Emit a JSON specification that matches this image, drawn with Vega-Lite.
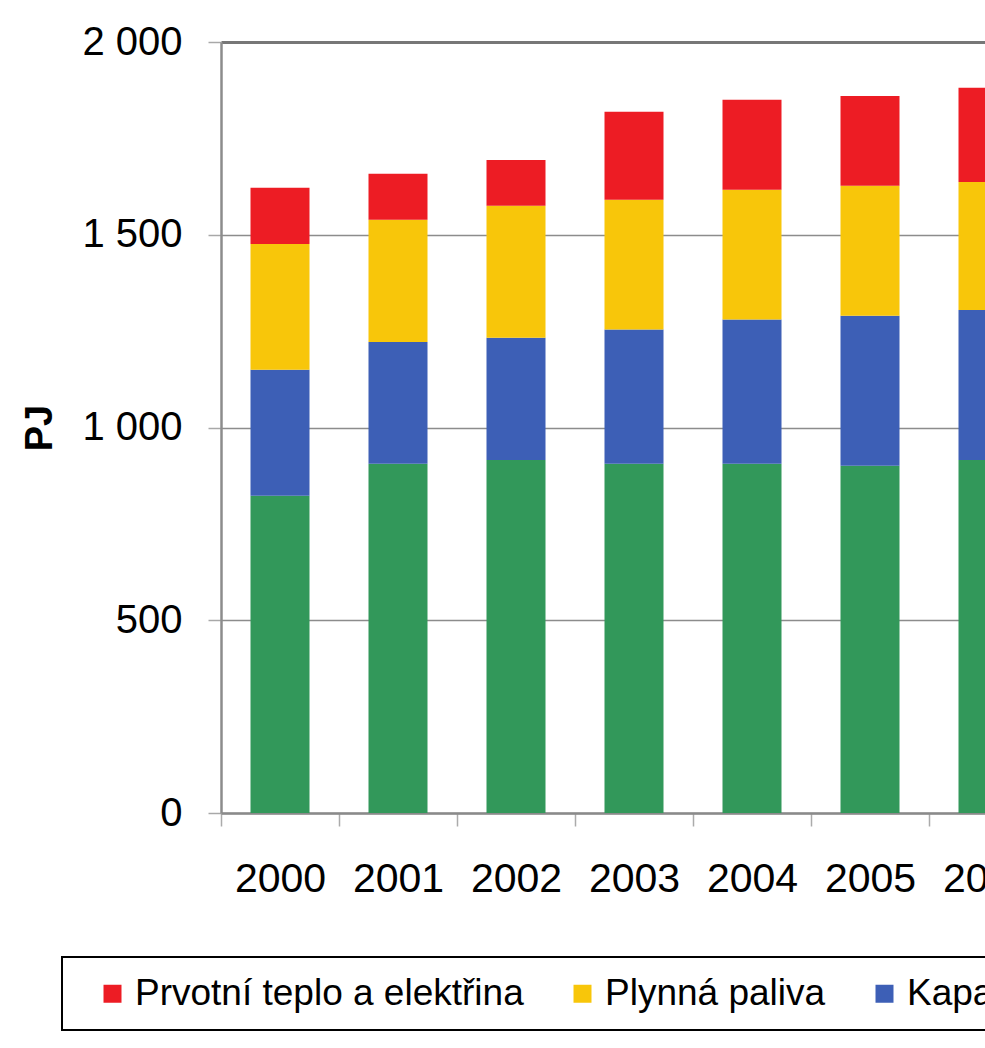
{
  "$schema": "https://vega.github.io/schema/vega-lite/v6.json",
  "autosize": {"type": "none"},
  "width": 764,
  "height": 771,
  "padding": {"left": 221, "top": 42, "right": 0, "bottom": 235},
  "background": "white",
  "config": {
    "font": "Liberation Sans",
    "view": {"stroke": null},
    "legend": {"strokeWidth": 2}
  },
  "data": {
    "values": [
      {"rok": "2000", "druh": "Pevná paliva", "poradi": 1, "PJ": 823},
      {"rok": "2000", "druh": "Kapalná paliva", "poradi": 2, "PJ": 327},
      {"rok": "2000", "druh": "Plynná paliva", "poradi": 3, "PJ": 326},
      {"rok": "2000", "druh": "Prvotní teplo a elektřina", "poradi": 4, "PJ": 146},
      {"rok": "2001", "druh": "Pevná paliva", "poradi": 1, "PJ": 906},
      {"rok": "2001", "druh": "Kapalná paliva", "poradi": 2, "PJ": 316},
      {"rok": "2001", "druh": "Plynná paliva", "poradi": 3, "PJ": 317},
      {"rok": "2001", "druh": "Prvotní teplo a elektřina", "poradi": 4, "PJ": 119},
      {"rok": "2002", "druh": "Pevná paliva", "poradi": 1, "PJ": 916},
      {"rok": "2002", "druh": "Kapalná paliva", "poradi": 2, "PJ": 317},
      {"rok": "2002", "druh": "Plynná paliva", "poradi": 3, "PJ": 342},
      {"rok": "2002", "druh": "Prvotní teplo a elektřina", "poradi": 4, "PJ": 119},
      {"rok": "2003", "druh": "Pevná paliva", "poradi": 1, "PJ": 906},
      {"rok": "2003", "druh": "Kapalná paliva", "poradi": 2, "PJ": 348},
      {"rok": "2003", "druh": "Plynná paliva", "poradi": 3, "PJ": 337},
      {"rok": "2003", "druh": "Prvotní teplo a elektřina", "poradi": 4, "PJ": 228},
      {"rok": "2004", "druh": "Pevná paliva", "poradi": 1, "PJ": 906},
      {"rok": "2004", "druh": "Kapalná paliva", "poradi": 2, "PJ": 374},
      {"rok": "2004", "druh": "Plynná paliva", "poradi": 3, "PJ": 337},
      {"rok": "2004", "druh": "Prvotní teplo a elektřina", "poradi": 4, "PJ": 233},
      {"rok": "2005", "druh": "Pevná paliva", "poradi": 1, "PJ": 901},
      {"rok": "2005", "druh": "Kapalná paliva", "poradi": 2, "PJ": 389},
      {"rok": "2005", "druh": "Plynná paliva", "poradi": 3, "PJ": 337},
      {"rok": "2005", "druh": "Prvotní teplo a elektřina", "poradi": 4, "PJ": 233},
      {"rok": "2006", "druh": "Pevná paliva", "poradi": 1, "PJ": 916},
      {"rok": "2006", "druh": "Kapalná paliva", "poradi": 2, "PJ": 389},
      {"rok": "2006", "druh": "Plynná paliva", "poradi": 3, "PJ": 332},
      {"rok": "2006", "druh": "Prvotní teplo a elektřina", "poradi": 4, "PJ": 244}
    ]
  },
  "mark": {"type": "bar", "strokeWidth": 0},
  "encoding": {
    "x": {
      "field": "rok",
      "type": "ordinal",
      "scale": {"range": [0, 826], "paddingInner": 0.5, "paddingOuter": 0.25},
      "axis": {
        "title": null,
        "labelAngle": 0,
        "labelFontSize": 41,
        "labelColor": "black",
        "labelPadding": 33,
        "domainColor": "#8a8a8a",
        "domainWidth": 2.5,
        "tickColor": "#ababab",
        "tickWidth": 1.5,
        "tickSize": 13,
        "tickOffset": -59,
        "labelOffset": 59,
        "grid": false
      }
    },
    "y": {
      "field": "PJ",
      "type": "quantitative",
      "stack": "zero",
      "scale": {"domain": [0, 2000]},
      "axis": {
        "title": "PJ",
        "titleFontSize": 38,
        "titleFontWeight": "bold",
        "titleColor": "black",
        "titlePadding": 22,
        "values": [0, 500, 1000, 1500, 2000],
        "labelExpr": "replace(format(datum.value, ','), ',', ' ')",
        "labelFontSize": 40,
        "labelColor": "black",
        "labelPadding": 26,
        "domainColor": "#8c8c8c",
        "domainWidth": 2.5,
        "tickColor": "#a8a8a8",
        "tickWidth": 1.5,
        "tickSize": 13,
        "grid": true,
        "gridColor": {"condition": {"test": "datum.value === 2000", "value": "#777777"}, "value": "#8c8c8c"},
        "gridWidth": {"condition": {"test": "datum.value === 2000", "value": 3}, "value": 1.5}
      }
    },
    "color": {
      "field": "druh",
      "type": "nominal",
      "scale": {
        "domain": ["Prvotní teplo a elektřina", "Plynná paliva", "Kapalná paliva", "Pevná paliva"],
        "range": ["#ED1C24", "#F8C60A", "#3D5FB6", "#32985A"]
      },
      "legend": {
        "orient": "none",
        "legendX": -159,
        "legendY": 915,
        "direction": "horizontal",
        "title": " ",
        "titleOrient": "left",
        "titleFontSize": 1,
        "titlePadding": 14,
        "padding": 18,
        "strokeColor": "black",
        "fillColor": "white",
        "symbolType": "square",
        "symbolSize": 324,
        "symbolStrokeWidth": 0,
        "symbolOpacity": 1,
        "labelFontSize": 37,
        "labelColor": "black",
        "labelOffset": 4,
        "labelLimit": 1000,
        "columnPadding": 40
      }
    },
    "order": {"field": "poradi", "type": "quantitative", "sort": "ascending"}
  }
}
